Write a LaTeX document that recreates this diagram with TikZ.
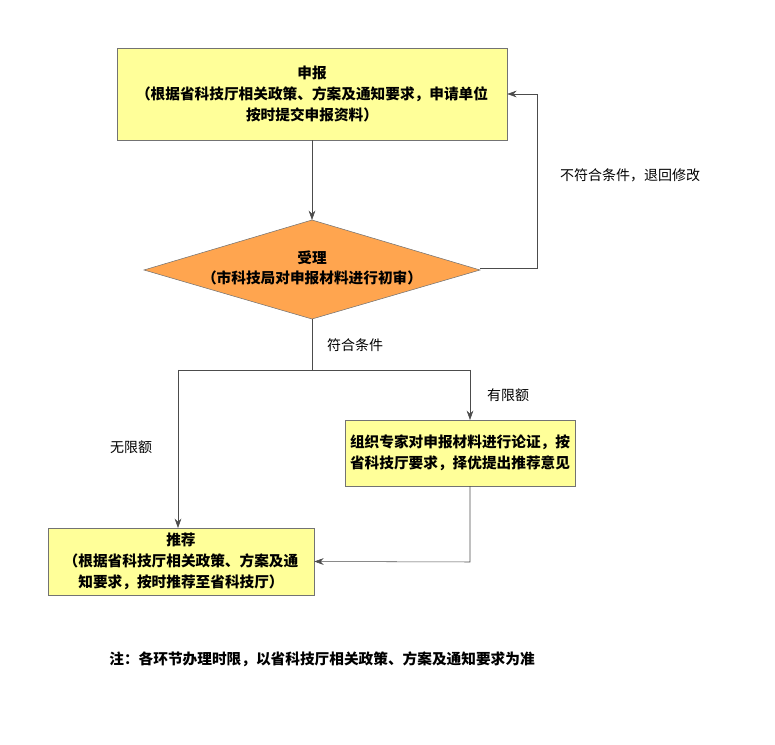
\documentclass[tikz,border=0pt]{standalone}
\usepackage{fontspec}
\setmainfont{Noto Sans CJK SC}
\usetikzlibrary{arrows.meta}
\definecolor{boxy}{HTML}{FFFF99}
\definecolor{dia}{HTML}{FFA54F}
\begin{document}
\begin{tikzpicture}[x=0.75pt,y=-0.75pt,
  box/.style={draw=black!55,fill=boxy,align=center,font=\bfseries\fontsize{11}{15.5}\selectfont,inner sep=0pt},
  lbl/.style={font=\fontsize{10.5}{12}\selectfont},
  arr/.style={draw=black!70,-{Stealth[length=7pt,width=5pt]}},
  ln/.style={draw=black!70}]
\useasboundingbox (0,0) rectangle (775,745);
\node[box,minimum width=390*0.75pt,minimum height=92*0.75pt] (b1) at (312,94) {申报\\（根据省科技厅相关政策、方案及通知要求，申请单位\\按时提交申报资料）};
\draw[draw=black!55,fill=dia] (144,270) coordinate (dl) -- (312,220) coordinate (dt) -- (480,270) coordinate (dr) -- (312,319) coordinate (db) -- cycle;
\node[align=center,font=\bfseries\fontsize{11}{15.5}\selectfont] (dtext) at (312,268) {受理\\（市科技局对申报材料进行初审）};
\node[box,minimum width=230*0.75pt,minimum height=66*0.75pt] (b2) at (460,453) {组织专家对申报材料进行论证，按\\省科技厅要求，择优提出推荐意见};
\node[box,minimum width=266*0.75pt,minimum height=67*0.75pt] (b3) at (181,561.5) {推荐\\（根据省科技厅相关政策、方案及通\\知要求，按时推荐至省科技厅）};
\draw[arr] (b1.south) -- (dt);
\coordinate (r1) at (537,268);
\coordinate (r2) at (537,94);
\draw[arr] (480,268) -- (r1) -- (r2) -- (b1.east);
\node[lbl] (l1) at (630,175) {不符合条件，退回修改};
\coordinate (s1) at (312,370);
\coordinate (sl) at (178,370);
\coordinate (sr) at (470,370);
\draw[ln] (db) -- (s1);
\draw[ln] (sl) -- (sr);
\draw[arr] (sl) -- (178,528);
\draw[arr] (sr) -- (470,420);
\node[lbl] (l2) at (355,345) {符合条件};
\node[lbl] (l3) at (508,395) {有限额};
\node[lbl] (l4) at (131,447) {无限额};
\coordinate (c1) at (470,562);
\draw[arr] (470,486) -- (c1) -- (b3.east);
\node[font=\bfseries\fontsize{11}{12}\selectfont] (note) at (322,659) {注：各环节办理时限，以省科技厅相关政策、方案及通知要求为准};
\end{tikzpicture}
\end{document}
